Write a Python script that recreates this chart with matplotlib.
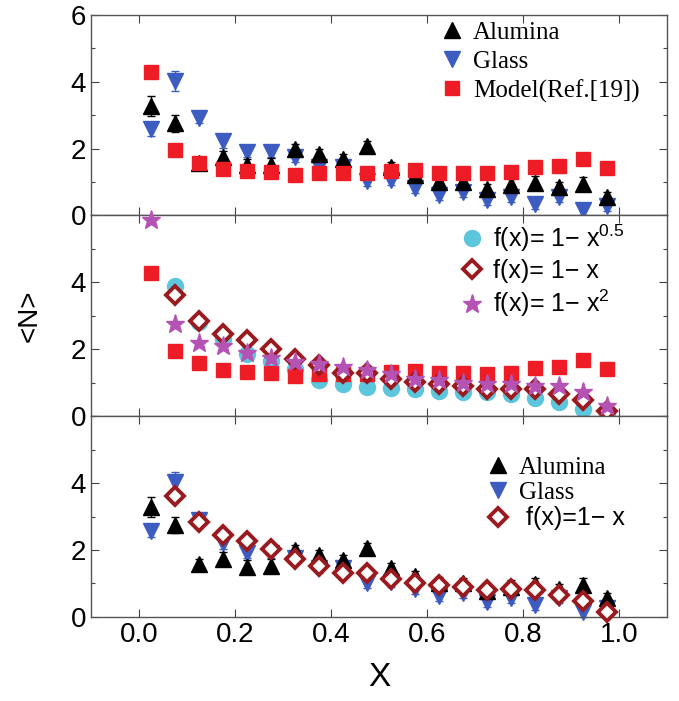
import numpy as np
import matplotlib
matplotlib.use('Agg')
import matplotlib.pyplot as plt
from matplotlib.ticker import MultipleLocator
from matplotlib.lines import Line2D

plt.rcParams['font.family'] = ['Liberation Sans', 'DejaVu Sans']
plt.rcParams['mathtext.fontset'] = 'custom'
plt.rcParams['mathtext.rm'] = 'Liberation Sans'
plt.rcParams['mathtext.it'] = 'Liberation Sans'

# bin centres
x = [0.025, 0.075, 0.125, 0.175, 0.225, 0.275, 0.325, 0.375, 0.425, 0.475,
     0.525, 0.575, 0.625, 0.675, 0.725, 0.775, 0.825, 0.875, 0.925, 0.975]

# experiments
alumina = [3.28, 2.75, 1.58, 1.74, 1.5, 1.52, 2.0, 1.85, 1.7, 2.07,
           1.45, 1.22, 1.0, 1.0, 0.78, 0.9, 0.97, 0.84, 0.95, 0.55]
alumina_err = [0.3, 0.25, 0.15, 0.2, 0.2, 0.2, 0.15, 0.15, 0.15, 0.15,
               0.15, 0.15, 0.2, 0.15, 0.15, 0.2, 0.2, 0.15, 0.2, 0.15]
glass = [2.58, 4.02, 2.9, 2.22, 1.9, 1.9, 1.75, 1.45, 1.45, 1.02,
         1.05, 0.82, 0.62, 0.7, 0.45, 0.55, 0.35, 0.55, 0.15, 0.27]
glass_err = [0.2, 0.3, 0.15, 0.2, 0.15, 0.15, 0.15, 0.15, 0.15, 0.15,
             0.15, 0.15, 0.15, 0.15, 0.15, 0.15, 0.15, 0.15, 0.15, 0.15]

# model of Ref. [19]
model = [4.28, 1.95, 1.58, 1.38, 1.33, 1.3, 1.2, 1.27, 1.27, 1.27,
         1.32, 1.35, 1.28, 1.28, 1.27, 1.3, 1.45, 1.48, 1.68, 1.42]

# simulations with different f(x)
f_sqrt = [np.nan, 3.9, 2.8, 2.3, 1.85, 1.65, 1.4, 1.08, 0.96, 0.87,
          0.85, 0.8, 0.75, 0.72, 0.72, 0.66, 0.55, 0.42, 0.22, 0.05]
f_lin = [np.nan, 3.62, 2.85, 2.45, 2.27, 2.02, 1.72, 1.53, 1.3, 1.3,
         1.12, 1.02, 0.96, 0.9, 0.8, 0.82, 0.8, 0.66, 0.48, 0.15]
f_sq = [5.85, 2.75, 2.18, 2.1, 1.9, 1.75, 1.62, 1.55, 1.47, 1.37,
        1.25, 1.12, 1.08, 0.98, 0.96, 0.96, 0.9, 0.9, 0.72, 0.3]

c_blue = '#3d5cc2'
c_red = '#ee1d25'
c_cyan = '#5cc6dd'
c_dia = '#9a1b1f'
c_star = '#b553b5'

sty_al = dict(marker='^', color='black', ms=12, ls='none')
sty_gl = dict(marker='v', color=c_blue, ms=12, ls='none')
sty_mo = dict(marker='s', color=c_red, ms=9.5, ls='none')
sty_sq = dict(marker='o', color=c_cyan, ms=11.5, ls='none')
sty_li = dict(marker='D', ms=9.5, mfc='white', mec=c_dia, mew=2.8, ls='none')
sty_st = dict(marker='*', color=c_star, ms=14, ls='none')

fig = plt.figure(figsize=(6.79, 7.01), dpi=100)
left, right, bot, top = 0.134, 0.982, 0.12, 0.979
h = (top - bot) / 3
axes = [fig.add_axes([left, bot + (2 - i) * h, right - left, h]) for i in range(3)]


def exp_points(ax):
    ax.errorbar(x, alumina, yerr=alumina_err, capsize=3, elinewidth=1,
                clip_on=False, zorder=3, **sty_al)
    ax.errorbar(x, glass, yerr=glass_err, capsize=3, elinewidth=1,
                clip_on=False, zorder=2, **sty_gl)


def legend(ax, handles, labels, x0, y0, spacing, fonts):
    leg = ax.legend(handles, labels, loc='upper left', bbox_to_anchor=(x0, y0),
                    frameon=False, fontsize=18, handlelength=1.0, handletextpad=0.35,
                    labelspacing=spacing, borderpad=0, borderaxespad=0)
    for t, f in zip(leg.get_texts(), fonts):
        t.set_family(f)


serif = 'Liberation Serif'
sans = 'Liberation Sans'

# top panel
ax = axes[0]
exp_points(ax)
ax.plot(x, model, clip_on=False, zorder=4, **sty_mo)
legend(ax, [Line2D([], [], **sty_al), Line2D([], [], **sty_gl), Line2D([], [], **sty_mo)],
       ['Alumina', 'Glass', 'Model(Ref.[19])'], 0.605, 0.965, 0.25, [serif] * 3)

# middle panel
ax = axes[1]
ax.plot(x, f_sqrt, clip_on=False, zorder=2, **sty_sq)
ax.plot(x, f_lin, clip_on=False, zorder=4, **sty_li)
ax.plot(x, f_sq, clip_on=False, zorder=5, **sty_st)
ax.plot(x, model, clip_on=False, zorder=3, **sty_mo)
legend(ax, [Line2D([], [], **sty_sq), Line2D([], [], **sty_li), Line2D([], [], **sty_st)],
       ['f(x)= 1\u2212 x$^{0.5}$', 'f(x)= 1\u2212 x', 'f(x)= 1\u2212 x$^{2}$'],
       0.64, 0.965, 0.2, [sans] * 3)

# bottom panel
ax = axes[2]
exp_points(ax)
ax.plot(x, f_lin, clip_on=False, zorder=4, **sty_li)
legend(ax, [Line2D([], [], **sty_al), Line2D([], [], **sty_gl), Line2D([], [], **sty_li)],
       ['Alumina', 'Glass', ' f(x)=1\u2212 x'], 0.685, 0.80, 0.1, [serif, serif, sans])

for i, ax in enumerate(axes):
    ax.set_xlim(-0.1, 1.1)
    ax.set_ylim(0, 6)
    ax.xaxis.set_major_locator(MultipleLocator(0.2))
    ax.set_yticks([0, 2, 4, 6] if i == 0 else [0, 2, 4])
    ax.yaxis.set_minor_locator(MultipleLocator(1))
    ax.tick_params(which='both', direction='in', top=True, right=True,
                   labelsize=20, width=0.8, color='#444444')
    ax.tick_params(which='major', length=6)
    ax.tick_params(which='minor', length=3)
    for s in ax.spines.values():
        s.set_color('#555555')
        s.set_linewidth(1.0)
    if i < 2:
        ax.tick_params(labelbottom=False)

axes[2].set_xlabel('X', fontsize=24, labelpad=10)
fig.text(0.043, (bot + top) / 2, '<N>', rotation=90, fontsize=20,
         ha='center', va='center')

fig.savefig('out.png', dpi=100)
